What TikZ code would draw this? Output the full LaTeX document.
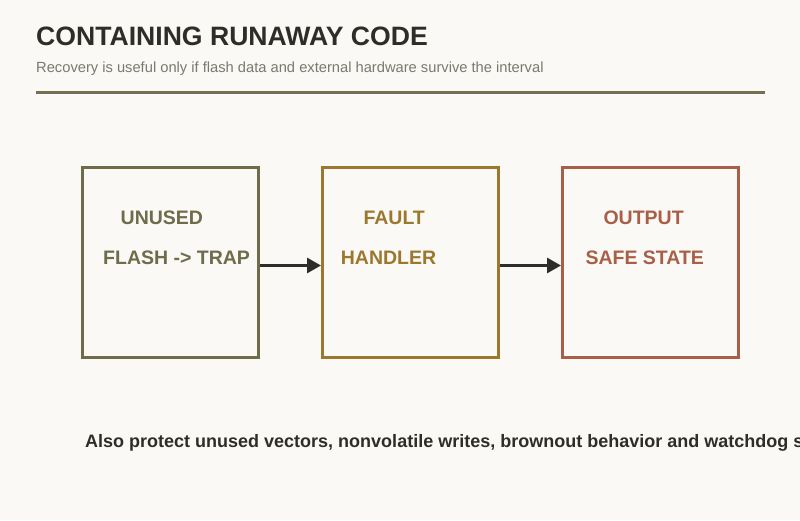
\documentclass[tikz,border=0pt]{standalone}
\usepackage{fontspec}
\setmainfont{Liberation Sans}
\usetikzlibrary{arrows.meta}
\definecolor{bg}{HTML}{FAF9F5}
\definecolor{titlec}{HTML}{2F2D28}
\definecolor{subc}{HTML}{7A786F}
\definecolor{rulec}{HTML}{737152}
\definecolor{olivec}{HTML}{6E6C4B}
\definecolor{goldc}{HTML}{9B782E}
\definecolor{rustc}{HTML}{A95F47}
\definecolor{arrc}{HTML}{2F2D2A}
\tikzset{
  box/.style={draw, line width=3pt, minimum width=176pt, minimum height=190pt, inner sep=0pt, fill=bg},
  lbl/.style={font=\fontsize{19.5}{22}\selectfont\bfseries, anchor=base west, inner sep=0pt},
  arr/.style={draw=arrc, line width=3pt, -{Triangle[length=14pt,width=15pt]}},
}
\begin{document}
\begin{tikzpicture}[x=1pt,y=-1pt]
\path[fill=bg] (0,0) rectangle (800,520);
\useasboundingbox (0,0) rectangle (800,520);
\node[anchor=base west, inner sep=0pt, text=titlec, font=\fontsize{26.6}{29}\selectfont\bfseries] (title) at (36,45.7) {CONTAINING RUNAWAY CODE};
\node[anchor=base west, inner sep=0pt, text=subc, font=\fontsize{14.7}{17}\selectfont] (sub) at (36,72) {Recovery is useful only if flash data and external hardware survive the interval};
\draw[rulec, line width=3pt] (36,92.2) coordinate (r1) -- (765,92.2) coordinate (r2);
\node[box, draw=olivec] (a) at (170.5,262.5) {};
\node[box, draw=goldc] (b) at (410.5,262.5) {};
\node[box, draw=rustc] (c) at (650.5,262.5) {};
\node[lbl, text=olivec] (a1) at (120.5,224) {UNUSED};
\node[lbl, text=olivec] (a2) at (103,264) {FLASH -> TRAP};
\node[lbl, text=goldc] (b1) at (363.3,224) {FAULT};
\node[lbl, text=goldc] (b2) at (340.7,264) {HANDLER};
\node[lbl, text=rustc] (c1) at (603.3,224) {OUTPUT};
\node[lbl, text=rustc] (c2) at (585.3,264) {SAFE STATE};
\draw[arr] ([yshift=-3pt]a.east) -- ([yshift=-3pt]b.west);
\draw[arr] ([yshift=-3pt]b.east) -- ([yshift=-3pt]c.west);
\node[anchor=base west, inner sep=0pt, text=titlec, font=\fontsize{18}{21}\selectfont\bfseries] (note) at (85,447) {Also protect unused vectors, nonvolatile writes, brownout behavior and watchdog supervision};
\end{tikzpicture}
\end{document}
